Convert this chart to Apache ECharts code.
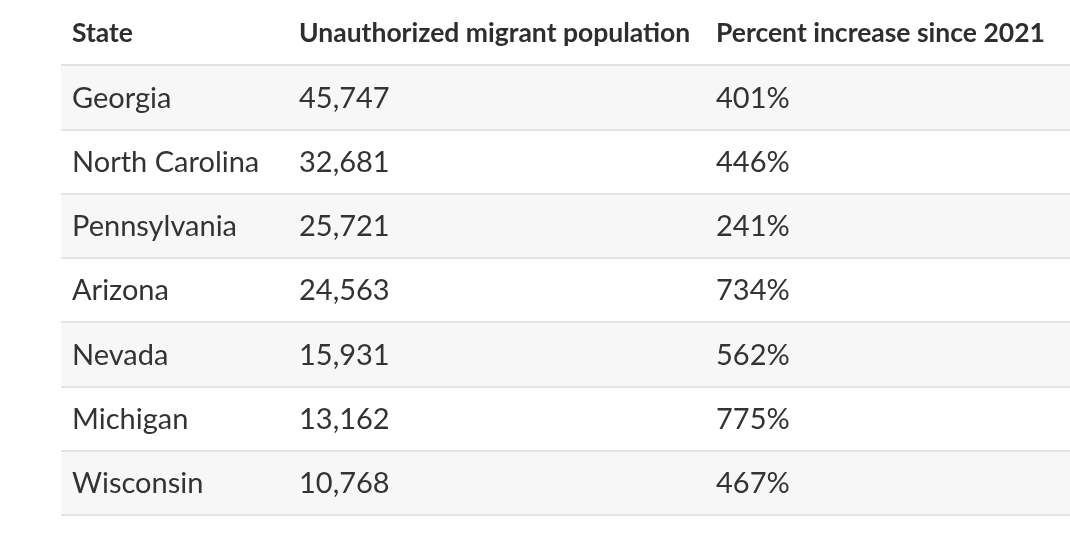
<!DOCTYPE html>
<html>
<head>
<meta charset="utf-8">
<script src="https://cdn.jsdelivr.net/npm/echarts@6/dist/echarts.min.js"></script>
<style>
  html, body { margin: 0; padding: 0; background: #fff; }
  #chart { width: 1070px; height: 557px; }
</style>
</head>
<body>
<div id="chart"></div>
<script>
// table data
const headers = ['State', 'Unauthorized migrant population', 'Percent increase since 2021'];
const states = ['Georgia', 'North Carolina', 'Pennsylvania', 'Arizona', 'Nevada', 'Michigan', 'Wisconsin'];
const population = [45747, 32681, 25721, 24563, 15931, 13162, 10768];
const pctIncrease = [401, 446, 241, 734, 562, 775, 467];

// column left edges, in px inside the grid
const colX = [11, 238, 655];
const gridLeft = 61;
const font = 'Lato, "Open Sans", sans-serif';

const chart = echarts.init(document.getElementById('chart'));

function fmt(n) {
  return n.toLocaleString('en-US');
}

const cells = states.map(function (s, i) {
  return [i, s, fmt(population[i]), pctIncrease[i] + '%'];
});

const option = {
  animation: false,
  backgroundColor: '#fff',
  grid: { left: gridLeft, right: 0, top: 65, bottom: 42 },
  xAxis: {
    type: 'value',
    min: 0,
    max: 1009,
    show: false
  },
  yAxis: {
    type: 'category',
    data: states,
    inverse: true,
    axisLine: { show: false },
    axisTick: { show: false },
    axisLabel: { show: false },
    splitLine: { show: true, lineStyle: { color: '#e3e3e3', width: 2 } },
    splitArea: { show: true, areaStyle: { color: ['#f7f7f7', '#ffffff'] } }
  },
  graphic: headers.map(function (h, i) {
    return {
      type: 'text',
      style: {
        x: gridLeft + colX[i],
        y: 33,
        text: h,
        font: 'bold 26.5px ' + font,
        fill: '#2e2e2e',
        verticalAlign: 'middle'
      }
    };
  }),
  series: [{
    type: 'custom',
    data: cells,
    renderItem: function (params, api) {
      const row = api.value(0);
      const y = api.coord([0, row])[1];
      const texts = [cells[params.dataIndex][1], cells[params.dataIndex][2], cells[params.dataIndex][3]];
      return {
        type: 'group',
        children: texts.map(function (t, c) {
          return {
            type: 'text',
            style: {
              x: api.coord([colX[c], row])[0],
              y: y + 1,
              text: t,
              font: '29px ' + font,
              fill: '#333333',
              verticalAlign: 'middle'
            }
          };
        })
      };
    }
  }]
};

chart.setOption(option);
</script>
</body>
</html>
